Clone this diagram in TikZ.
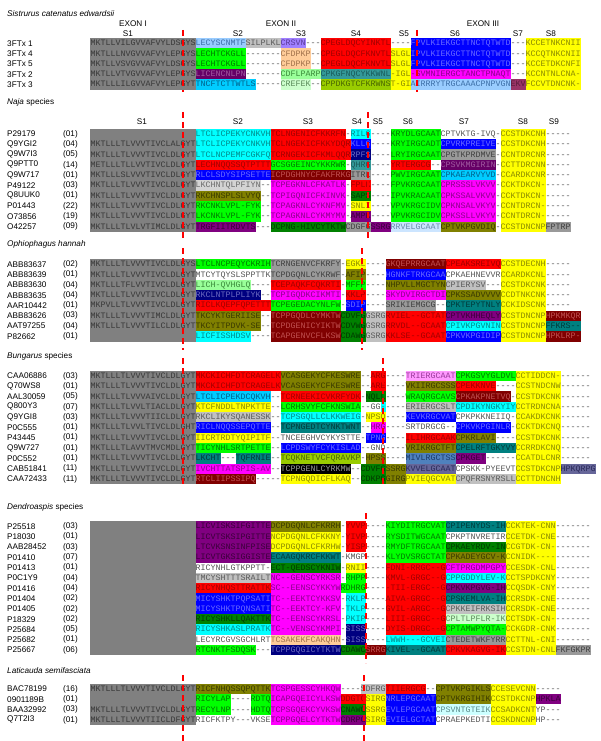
\documentclass[tikz,border=0pt]{standalone}
\usepackage{fontspec}
\setmainfont{Liberation Sans}
\setmonofont{Liberation Mono}
\definecolor{gr}{HTML}{808080}\definecolor{grt}{HTML}{383838}
\definecolor{no}{HTML}{FFFFFF}\definecolor{not}{HTML}{555555}
\definecolor{lb}{HTML}{99CCFF}\definecolor{lbt}{HTML}{3D6FA8}
\definecolor{sl}{HTML}{C0C0C0}\definecolor{slt}{HTML}{5A5A5A}
\definecolor{lv}{HTML}{A080FF}\definecolor{lvt}{HTML}{5A3A9A}
\definecolor{rd}{HTML}{FF0000}\definecolor{rdt}{HTML}{A00000}
\definecolor{bl}{HTML}{0000FF}\definecolor{blt}{HTML}{6A6AFF}
\definecolor{yl}{HTML}{FFFF00}\definecolor{ylt}{HTML}{8A8A00}
\definecolor{gn}{HTML}{00FF00}\definecolor{gnt}{HTML}{007A00}
\definecolor{pc}{HTML}{FFCC99}\definecolor{pct}{HTML}{A0704A}
\definecolor{dp}{HTML}{660066}\definecolor{dpt}{HTML}{A05AA0}
\definecolor{lg}{HTML}{99FF99}\definecolor{lgt}{HTML}{3A8A3A}
\definecolor{pg}{HTML}{CCFFCC}\definecolor{pgt}{HTML}{5A8A5A}
\definecolor{tl}{HTML}{339999}\definecolor{tlt}{HTML}{1A5A5A}
\definecolor{cy}{HTML}{00CCFF}\definecolor{cyt}{HTML}{00608A}
\definecolor{cn}{HTML}{00FFFF}\definecolor{cnt}{HTML}{008A8A}
\definecolor{og}{HTML}{99CC00}\definecolor{ogt}{HTML}{4A6600}
\definecolor{mg}{HTML}{FF00FF}\definecolor{mgt}{HTML}{8A008A}
\definecolor{mr}{HTML}{800000}\definecolor{mrt}{HTML}{C05050}
\definecolor{wn}{HTML}{993366}\definecolor{wnt}{HTML}{5A1A3A}
\definecolor{ol}{HTML}{808000}\definecolor{olt}{HTML}{3A3A00}
\definecolor{dg}{HTML}{008000}\definecolor{dgt}{HTML}{003A00}
\definecolor{nv}{HTML}{000080}\definecolor{nvt}{HTML}{6A6AC0}
\definecolor{pu}{HTML}{800080}\definecolor{put}{HTML}{3A003A}
\definecolor{gy}{HTML}{999999}\definecolor{gyt}{HTML}{404040}
\definecolor{lgy}{HTML}{D3D3D3}\definecolor{lgyt}{HTML}{6A6A6A}
\definecolor{pb}{HTML}{CCE5FF}\definecolor{pbt}{HTML}{6A8AAA}
\definecolor{bk}{HTML}{000000}\definecolor{bkt}{HTML}{9A9A9A}
\definecolor{pk}{HTML}{FF99FF}\definecolor{pkt}{HTML}{9A3A9A}
\definecolor{sb}{HTML}{666699}\definecolor{sbt}{HTML}{2A2A5A}
\definecolor{lc}{HTML}{CCFFFF}\definecolor{lct}{HTML}{5A8A8A}
\definecolor{sbl}{HTML}{4F81BD}\definecolor{sblt}{HTML}{1A3A6A}
\definecolor{tq}{HTML}{008080}\definecolor{tqt}{HTML}{003A3A}
\definecolor{dashred}{HTML}{FF0000}
\newcommand\sqf{\fontsize{8.33}{10}\ttfamily}
\newcommand\lbf{\fontsize{8.2}{10}\selectfont}
\tikzset{
  seg/.style={inner sep=0pt,outer sep=0pt,minimum height=10.3pt,text height=4.9pt,text depth=0pt,fill=#1,text=#1t,font=\sqf,anchor=west},
  lab/.style={inner sep=0pt,anchor=west,font=\lbf},
  hdr/.style={inner sep=0pt,font=\lbf},
  rdash/.style={draw=dashred,line width=1.8pt,dash pattern=on 6pt off 4pt},
  s1box/.style={fill=gr}
}
\newcommand\sqrow[4]{%
  \node[inner sep=0pt,outer sep=0pt,minimum size=0pt,anchor=east,alias=prev] (#1) at ({90.7+5*#3},{#2}) {};
  \foreach \fc/\st in {#4}{\node[seg=\fc] (prev) at (prev.east) {\st};}%
}
\newcommand\lrow[3]{%
  \node[lab] (n#1) at (7,{#2}) {#1};
  \node[lab] (c#1) at (63,{#2}) {#3};
}
\begin{document}
\begin{tikzpicture}[x=1pt,y=-1pt]
\useasboundingbox (0,0) rectangle (600,741);
% ---------- Sistrurus ----------
\node[lab] (tSis) at (7,14) {\itshape Sistrurus catenatus edwardsii};
\node[hdr] (ex1) at (133,23.5) {EXON I};
\node[hdr] (ex2) at (281,23.5) {EXON II};
\node[hdr] (ex3) at (483,23.5) {EXON III};
\foreach \n/\x in {S1/128,S2/238,S3/301,S4/356,S5/404,S6/455,S7/518,S8/551}{\node[hdr] (h\n) at (\x,33.5) {\n};}
\fill[s1box] (89.5,38.15) rectangle (195.7,89.65);
\lrow{3FTx 1}{43.3}{}
\lrow{3FTx 4}{53.6}{}
\lrow{3FTx 5}{63.9}{}
\lrow{3FTx 2}{74.2}{}
\lrow{3FTx 3}{84.5}{}
\sqrow{s1}{43.3}{0}{gr/MKTLLVILGVVAFVYLDSGYS,lb/LECYSCNMTF,sl/SILPLKL,lv/CRSVN,no/---,rd/CPEGLDQCYINKTL,no/----,bl/FPVLKIEKGCTTNCTQTWTD,no/---,yl/KCCETNKCNII}
\sqrow{s2}{53.6}{0}{gr/MKTLLLNVGVVAFVYLEPGYS,gn/LECHTCKGLL,no/-------,pc/CFDPKP,no/--,rd/CPEGLDQCFKNVTL,yl/SLGL,bl/IPVLKIEKGCTTNCTQTWTD,no/---,yl/KCCQTNKCNII}
\sqrow{s3}{63.9}{0}{gr/MKTLLVSVGVVAFVYLDSGYS,gn/LECHTCKGLL,no/-------,pc/CFDPKP,no/--,rd/CPEGLDQCFKNVTL,yl/SLGL,bl/FPVLKIEKGCTTNCTQTWTD,no/---,yl/KCCETDKCNFI}
\sqrow{s4}{74.2}{0}{gr/MKTLLVTVGVVAFVYLEPGYS,dp/LICENCNLPN,no/-------,lg/CDFLPARP,tl/CPKGFNQCYKKWNL,yl/-IGL,mg/-SVMNIERGCTANCTPNAQT,no/---,yl/KCCNTNLCNA-}
\sqrow{s5}{84.5}{0}{gr/MKTLLLILGVVAFVYLEPGYT,cy/TNCFTCTTWTLS,no/-----,pg/CREFEK,no/--,og/CPPDKGTCFKRWNS,yl/T-GI,lb/AIRRRYTRGCAAACPNPVGN,wn/EKV,yl/FCCVTDNCNK-}
% ---------- Naja ----------
\node[lab] (tNaja) at (7,102) {\itshape Naja\/ \upshape species};
\foreach \n/\x in {S1/142,S2/238,S3/308,S4/357,S5/378,S6/408,S7/464,S8/523,S9/554}{\node[hdr] (k\n) at (\x,122) {\n};}
\fill[s1box] (89.5,128.85) rectangle (195.7,231.85);
\lrow{P29179}{134}{(01)}
\lrow{Q9YGI2}{144.3}{(04)}
\lrow{Q9W7I3}{154.6}{(05)}
\lrow{Q9PTT0}{164.9}{(14)}
\lrow{Q9W717}{175.2}{(01)}
\lrow{P49122}{185.5}{(03)}
\lrow{Q8UUK0}{195.8}{(01)}
\lrow{P01443}{206.1}{(22)}
\lrow{O73856}{216.4}{(19)}
\lrow{O42257}{226.7}{(09)}
\sqrow{n1}{134}{21}{cn/LTCLICPEKYCNKVH,rd/TCLNGENICFKKRFN,no/-,cn/RILG,no/----,gn/KRYDLGCAAT,no/CPTVKTG-IVQ,no/-,yl/CCSTDKCNH,no/-----}
\sqrow{n2}{144.3}{0}{gr/MKTLLLTLVVVTIVCLALGYT,cn/LTCLICPEKYCNKVH,rd/TCLNGEKICFKKYDQR,bl/KLLG,no/----,gn/KRYIRGCADT,bl/CPVRKPREIVE,no/-,yl/CCSTDKCNH,no/-----}
\sqrow{n3}{154.6}{0}{gr/MKTLLLTLVVVTIVCLDLGYT,cn/LTCLNCPEMFCGKFQ,rd/TCRNGEKICFKMLQQR,nv/RPFS,no/----,gn/LRYIRGCAAT,gy/CPGTKPRDMVE,no/-,yl/CCNTDRCNR,no/-----}
\sqrow{n4}{164.9}{0}{gr/METLLLTLLVVTIVCLDLGYT,rd/LECHNQQSSQTPTTT,gn/GCSGGEINCYKKRWR,no/-,tl/QHRG,no/----,rd/YRTERGCG,no/--,dp/CPSVKMGIRIN,no/-,yl/CCTTDRCNN,no/-----}
\sqrow{n5}{175.2}{0}{gr/MKTLLLSLVVVTIVCLDLGYT,bl/RLCLSDYSIPSETTE,mr/ICPDGHNYCFAKFRKG,gy/ITRL,no/----,gn/PWVIRGCAAT,cy/CPKAEARVYVD,no/-,yl/CCARDKCNR,no/-----}
\sqrow{n6}{185.5}{0}{gr/MKTLLLTLVVVTIVCLDLGYT,lgy/LKCHNTQLPFIYN,no/--,mg/TCPEGKNLCFKATLK,no/-,rd/FPLK,no/----,gn/FPVKRGCAAT,mg/CPRSSSLVKVV,no/-,yl/CCKTDKCN-,no/-----}
\sqrow{n7}{195.8}{0}{gr/MKTLLLTLVVVTIVCLDLGYT,ol/RKCHNSPLSLVYQ,no/--,mg/TCPIGQNICFKINVK,no/-,dg/SAPS,no/----,gn/IPVKRACAAT,mg/CPKSSALVKVV,no/-,yl/CCKTDKCN-,no/-----}
\sqrow{n8}{206.1}{0}{gr/MKTLLLTLVVVTIVCLDLGYT,gn/RKCNKLVPL-FYK,no/--,mg/TCPAGKNLCYKNFMV,no/-,yl/SNLI,no/----,gn/VPVKRGCIDV,mg/CPKNSALVKYV,no/-,yl/CCNTDRCN-,no/-----}
\sqrow{n9}{216.4}{0}{gr/MKTLLLTLVVVTIVCLDLGYT,gn/LKCNKLVPL-FYK,no/--,mg/TCPAGKNLCYKMYMV,no/-,pu/AMPK,no/----,gn/VPVKRGCIDV,mg/CPKSSLLVKYV,no/-,yl/CCNTDRCN-,no/-----}
\sqrow{n10}{226.7}{0}{gr/MKTLLLTLVLVTIMCLDLGYT,pu/TRGFIITRDVTS,no/---,dg/DCPNG-HIVCYTKTW,gy/CDGFG,pu/SSRG,pb/RRVELGCAAT,ol/CPTVKPGVDIQ,no/-,yl/CCSTDNCNP,gy/FPTRP}
% ---------- Ophiophagus ----------
\node[lab] (tOph) at (7,244) {\itshape Ophiophagus hannah};
\fill[s1box] (89.5,259.15) rectangle (195.7,341.55);
\lrow{ABB83637}{264.3}{(02)}
\lrow{ABB83639}{274.6}{(01)}
\lrow{ABB83630}{284.9}{(04)}
\lrow{ABB83635}{295.2}{(04)}
\lrow{AAR10442}{305.5}{(01)}
\lrow{ABB83626}{315.8}{(03)}
\lrow{AAT97255}{326.1}{(04)}
\lrow{P82662}{336.4}{(01)}
\sqrow{o1}{264.3}{0}{gr/MKTLLLTLVVVTIVCLDLGYS,gn/LTCLNCPEQYCKRIH,gy/TCRNGENVCFKRFY,no/-,yl/EGKL,no/----,mr/GKQEPRRGCAAT,rd/CPEAKSREIVQ,yl/CCSTDECNH,no/-----}
\sqrow{o2}{274.6}{0}{gr/MKTLLLTLVVVTIVCLDLGYT,no/MTCYTQYSLSPPTTK,gy/TCPDGQNLCYKRWF,no/-,ol/AFIP,no/----,bl/HGNKFTRKGCAA,no/CPKAEHNEVVR,yl/CCARDKCNL,no/-----}
\sqrow{o3}{284.9}{0}{gr/MKTLLLTFLVVTIVCLDLGYT,lg/LICH-QVHGLQ,no/----,rd/TCEPAQKFCQKRTI,no/-,gn/MFFP,no/----,ol/NHPVLLMGCTYN,sl/CPIERYSV,no/---,yl/CCSTDKCNK,no/-----}
\sqrow{o4}{295.2}{0}{gr/MKTLLLTLVVVTIVCLDLGYT,nv/RKCLNTPLPLIYK,no/--,mg/TCPIGQDKCIKMTI,no/-,rd/KKLP,no/----,mg/SKYDVIRGCTDI,ol/CPKSSADVVVV,yl/CCDTNKCNK,no/-----}
\sqrow{o5}{305.5}{0}{gr/MKPVLLTLVVVTIVCLDLGYT,rd/RICLKQEPFQPETTT,gn/TCPEGEDACYNLFW,no/-,bl/SDIP,no/----,gy/SRIKIEMGCG,no/--,tq/CPKTEPYTNLY,yl/CCKIDSCNK,no/-----}
\sqrow{o6}{315.8}{0}{gr/MKTLLLTLVVVTIMCLDLGYT,ol/TKCYKTGERIISE,no/--,mr/TCPPGQDLCYMKTW,dg/CDVFG,sl/GSRG,rd/RVIEL--GCTAT,pu/CPTVKHHEQLY,yl/CCSTDNCNP,mr/HPKMKQR}
\sqrow{o7}{326.1}{0}{gr/MKTLLLTLVVVTILCLDLGYT,ol/TKCYITPDVK-SE,no/--,mr/TCPDGENICYIKTW,dg/CDVWG,sl/GSRG,rd/RRVDL--GCAAT,cn/CPIVKPGVNIN,yl/CCSTDNCNP,tq/FFKRS--}
\sqrow{o8}{336.4}{21}{cn/LICFISSHDSV,no/----,mr/TCAPGENVCFLKSW,dg/CDAWG,sl/GSRG,rd/KKLSE--GCAAT,bl/CPKVKPGIDIP,yl/CCSTDNCNP,mr/HPKLRP-}
% ---------- Bungarus ----------
\node[lab] (tBun) at (7,356.7) {\itshape Bungarus\/ \upshape species};
\fill[s1box] (89.5,370.85) rectangle (195.7,484.15);
\lrow{CAA06886}{376}{(03)}
\lrow{Q70WS8}{386.3}{(01)}
\lrow{AAL30059}{396.6}{(05)}
\lrow{Q800Y3}{406.9}{(07)}
\lrow{Q9YGI8}{417.2}{(03)}
\lrow{P0C555}{427.5}{(01)}
\lrow{P43445}{437.8}{(01)}
\lrow{Q9W727}{448.1}{(01)}
\lrow{P0C552}{458.4}{(01)}
\lrow{CAB51841}{468.7}{(11)}
\lrow{CAA72433}{479}{(11)}
\sqrow{b1}{376}{0}{gr/MKTLLLTLVVVTIVCLDLGYT,rd/MKCKICHFDTCRAGELK,ol/VCASGEKYCFKESWRE,no/--,rd/ARG,no/----,pk/TRIERGCAAT,gn/CPKGSVYGLDVL,yl/CCTIDDCN-,no/------}
\sqrow{b2}{386.3}{0}{gr/MKTLLLTLVVVTIVCLDLGYT,rd/MKCKICHFDTCRAGELK,ol/VCASGEKYCFKESWRE,no/--,rd/ARE,no/----,ol/VKIIRGCSSS,rd/CPEKKNVE,no/----,yl/CCSTNDCNW,no/------}
\sqrow{b3}{396.6}{0}{gr/MKTLLLTLVVVAIVCLDLGYT,cy/LTCLICPEKDCQKVH,no/--,rd/TCRNEEKICVKRFYDK,no/-,dg/NQLL,no/----,gn/WRAQRGCAVS,mr/CPKAKPNETVQ,no/-,yl/CCSTDKCNK,no/------}
\sqrow{b4}{406.9}{0}{gr/MKTLLLTLVVLTIACLDLGYT,yl/KTCFNDDLTNPKTTE,no/--,gn/LCRHSVYFCFKNSWIA,no/--GG,cn/-,no/----,sl/ERIERGCSLT,cn/CPDIKYNGKYIY,yl/CCTRDNCNA,no/------}
\sqrow{b5}{417.2}{0}{gr/MKTLLLTLVVVTIICLDLGYT,sl/RKCLIKYSQANESSK,no/--,cn/TCPSGQLLCLKKWEIG,no/-,yl/NPSQ,no/----,bl/KEVKRGCVAT,no/CPKPKKNEIIQ,no/-,yl/CCAKDKCNK,no/------}
\sqrow{b6}{427.5}{0}{gr/MKTLLLTLVVLTIVCLDLGHT,bl/RICLNQQSSEPQTTE,no/--,tq/TCPNGEDTCYNKTWNT,no/--,mg/HRG,no/----,no/SRTDRGCG--,bl/CPKVKPGINLR,no/-,yl/CCKTDKCNQ,no/------}
\sqrow{b7}{437.8}{0}{gr/MKTLLLTLVVVTIVCLDLGYT,yl/IICRTRDTYQIPITF,no/--,no/TNCEEGHVCYKYSTTE,no/-,bl/TPNG,no/----,rd/ILIHRGCAAK,ol/CPKRLAVI,no/----,yl/CCSTDKCNK,no/------}
\sqrow{b8}{448.1}{0}{gr/MKTLLLTLAVVTMVCMDLGYT,gn/TICYNHLSRTPETTE,no/--,bl/LCPDSWYFCYKISLAD,no/--GND,no/----,ol/VRIKRGCTFT,tq/CPELRFTGKYVY,yl/CCRRDKCNQ,no/------}
\sqrow{b9}{458.4}{0}{gr/MKTLLLTLVVVTIVCLDLGYT,tq/LKCHT,no/---,tq/TQFRNIE,no/--,og/TCQKNETVCFQRAVKP,no/-,ol/HPSS,no/----,sbl/MIVLRGCTSS,pu/CPKGET,no/------,yl/CCATDLCNR,no/------}
\sqrow{b10}{468.7}{0}{gr/MKTLLLTLVVVTIVCLDLGYT,mg/IVCHTTATSPIS-AV,no/--,bk/TCPPGENLCYRKMW,no/--,dg/CDVFG,ol/SSRG,sb/KVVELGCAAT,no/CPSKK-PYEEVT,yl/CCSTDKCNP,sb/HPKQRPG}
\sqrow{b11}{479}{0}{gr/MKTLLLTLVVVTIVCLDLGYT,mr/RTCLIIPSSIPQ,no/-----,yl/TCPNGQDICFLKAQ,no/--,dg/CDKPG,ol/GIRG,yl/PVIEQGCVAT,sl/CPQFRSNYRSLL,yl/CCTTDNCNH}
% ---------- Dendroaspis ----------
\node[lab] (tDen) at (7,507.7) {\itshape Dendroaspis\/ \upshape species};
\fill[s1box] (89.5,521.35) rectangle (195.7,655.25);
\lrow{P25518}{526.5}{(03)}
\lrow{P18030}{536.8}{(01)}
\lrow{AAB28452}{547.1}{(03)}
\lrow{P01410}{557.4}{(07)}
\lrow{P01413}{567.7}{(01)}
\lrow{P0C1Y9}{578}{(04)}
\lrow{P01416}{588.3}{(04)}
\lrow{P01404}{598.6}{(02)}
\lrow{P01405}{608.9}{(02)}
\lrow{P18329}{619.2}{(02)}
\lrow{P25684}{629.5}{(05)}
\lrow{P25682}{639.8}{(01)}
\lrow{P25667}{650.1}{(06)}
\sqrow{d1}{526.5}{21}{pu/LICVISKSIFGITTE,ol/DCPDGQNLCFKRRH,no/-,rd/YVVP,no/----,gn/KIYDITRGCVAT,tq/CPIPENYDS-IH,yl/CCKTEK-CNN,no/-------}
\sqrow{d2}{536.8}{21}{pu/LICVTSKSIPGITTE,yl/NCPDGQNLCFKKNY,no/-,rd/YIVP,no/----,gn/RYSDITWGCAAT,no/CPKPTNVRETIR,yl/CCETDK-CNE,no/-------}
\sqrow{d3}{547.1}{21}{pu/LTCVKSNSINFPISE,yl/DCPDGQNLCFKRHW,no/-,rd/YISP,no/----,gn/RMYDFTRGCAAT,dg/CPKAEYRDV-IN,yl/CCGTDK-CN-,no/-------}
\sqrow{d4}{557.4}{21}{pu/LICVTGKSIGGISTE,tq/ECAAGQKRCFKKWT,no/-,no/KMGP,no/----,gn/KLYDVSRGCTAT,ol/CPKADEYGCV-K,yl/CCNIDK----,no/-------}
\sqrow{d5}{567.7}{21}{no/RICYNHLGTKPPTT-,dg/ECT-QEDSCYKNIW,no/-,yl/RNII,no/----,rd/FDNI-RRGC--G,mg/CFTPRGDMPGPY,yl/CCESDK-CNL,no/-------}
\sqrow{d6}{578}{21}{sl/TMCYSHTTTSRAILT,mg/NC--GENSCYRKSR,no/-,gn/RHPP,no/----,rd/KMVL-GRGC--G,cn/CPPGDDYLEV-K,yl/CCTSPDKCNY,no/-------}
\sqrow{d7}{588.3}{21}{rd/RICYNHQSTTRATTK,mg/SC--EENSCYKKYW,gn/RDHRG,no/----,rd/-TII-ERGC--G,pu/CPKVKPGVG-IH,yl/CCQSDK-CNY,no/-------}
\sqrow{d8}{598.6}{21}{bl/MICYSHKTPQPSATI,mg/TC--EEKTCYKKSV,no/-,cn/RKLP,no/----,rd/AIVA-GRGC--G,tq/CPSKEMLVA-IH,yl/CCRSDK-CNE,no/-------}
\sqrow{d9}{608.9}{21}{bl/MICYSHKTPQNSATI,mg/TC--EEKTCY-KFV,no/-,cn/TKLP,no/----,rd/GVIL-ARGC--G,sl/CPKKEIFRKSIH,yl/CCRSDK-CNE,no/-------}
\sqrow{d10}{619.2}{21}{dg/RICYSHKLLQAKTTK,mg/TC--EENSCYKRSL,no/-,cn/PKIP,no/----,rd/LIII-GRGC--G,pg/CPLTLPFLR-IK,yl/CCTSDK-CN-,no/-------}
\sqrow{d11}{629.5}{21}{cn/RICYSHKASLPRATK,mg/TC--VENSCYKMPI,no/-,nv/SISS,no/----,rd/DYIS-DRGC--G,gn/CPTAMWPYQTA-,yl/CCKGDR-CNK,no/-------}
\sqrow{d12}{639.8}{21}{no/LECYRCGVSGCHLRT,pc/TCSAKEKFCAKQHN,no/-,nv/SISS,no/----,cn/LWWH---GCVEI,gy/CTEDETWKFYRR,yl/CCTTNL-CNI,no/-------}
\sqrow{d13}{650.1}{21}{gn/RTCNKTFSDQSK,no/---,nv/TCPPGQGICYTKTW,dg/CDAWC,mr/SRRG,tq/KIVEL--GCAAT,rd/CPKVKAGVG-IK,yl/CCSTDN-CNL,gy/FKFGKPR}
% ---------- Laticauda ----------
\node[lab] (tLat) at (7,670.7) {\itshape Laticauda semifasciata};
\fill[s1box] (89.5,683.85) rectangle (195.7,725.05);
\lrow{BAC78199}{689}{(16)}
\lrow{0901189B}{699.3}{(01)}
\lrow{BAA32992}{709.6}{(03)}
\lrow{Q7T2I3}{719.9}{(01)}
\sqrow{l1}{689}{0}{gr/MKTLLLTLVVVTIVCLDLGYT,ol/RICFNHQSSQPQTTK,mg/TCSPGESSCYHKQW,no/----,sl/SDFRG,rd/TIIERGCG,no/--,ol/CPTVKPGIKLS,yl/CCESEVCNN,no/-----}
\sqrow{l2}{699.3}{21}{gn/RICYLAP,no/----,gn/RDTQ,mg/ICAPGQEICYLKSW,rd/DDGTC,yl/SIRG,bl/NRLEPGCAAT,ol/CPTVKRGIHIK,yl/CCSTDKCNP,pu/HPKLA}
\sqrow{l3}{709.6}{0}{gr/MKTLLLTLVVVTIVCLDLGYT,gn/RECYLNP,no/----,gn/HDTQ,mg/TCPSGQEKCYVKSW,dg/CNAWG,yl/SSRG,bl/EVLEPGCAAT,lc/CPSVNTGTEIK,yl/CCSADKCNT,no/YP---}
\sqrow{l4}{719.9}{0}{gr/MKTLLLTLVVVTIICLDFGYT,no/RICFKTPY---VKSE,mg/TCPPGQELCYTKTW,pu/CDRPG,yl/SIRG,bl/EVIELGCTAT,no/CPRAEPKEDTI,yl/CCSKDNCNP,no/HP---}
% ---------- red dashed exon boundaries ----------
\draw[rdash] (183,30) -- (183,92);
\draw[rdash] (417,30) -- (417,92);
\draw[rdash] (183,112) -- (183,238);
\draw[rdash] (368,112) -- (368,238);
\draw[rdash] (183,248) -- (183,350);
\draw[rdash] (362,248) -- (362,350);
\draw[rdash] (183,358) -- (183,487);
\draw[rdash] (383,358) -- (383,487);
\draw[rdash] (366,513) -- (366,663);
\draw[rdash] (183,675) -- (183,741);
\draw[rdash] (364,675) -- (364,741);
\end{tikzpicture}
\end{document}
